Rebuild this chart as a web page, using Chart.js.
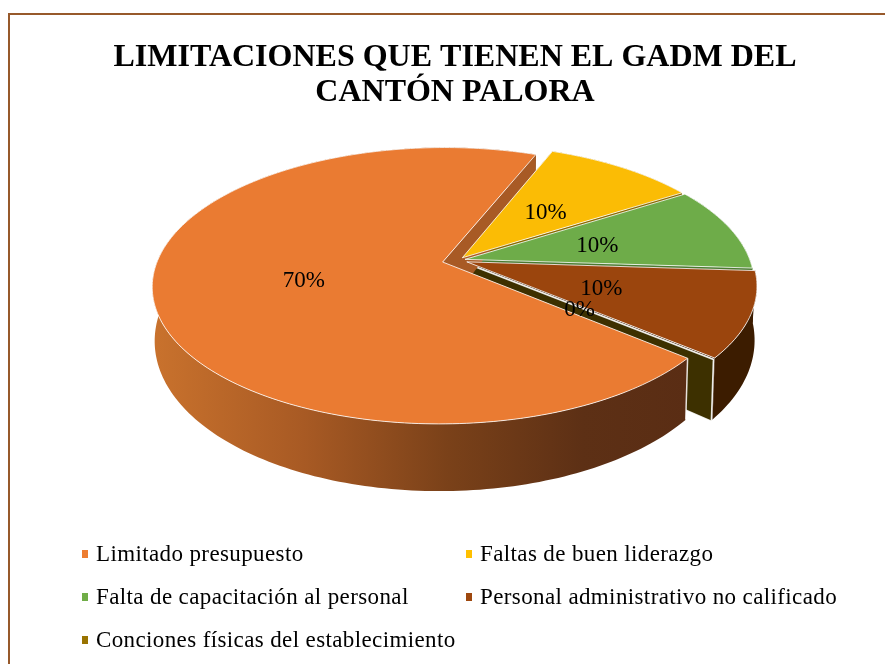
<!DOCTYPE html>
<html lang="es">
<head>
<meta charset="utf-8">
<title>Limitaciones</title>
<script src="https://cdn.jsdelivr.net/npm/chart.js@4"></script>
<style>
html,body{margin:0;padding:0;background:#fff;overflow:hidden;width:885px;height:664px}
#frame{position:absolute;left:8px;top:13px;right:0;bottom:0;border-left:2px solid #97592b;border-top:2px solid #97592b}
canvas{position:absolute;left:0;top:0}
</style>
</head>
<body>
<div id="frame"></div>
<canvas id="c" width="885" height="664"></canvas>
<script>
const titleLines = ['LIMITACIONES QUE TIENEN EL GADM DEL', 'CANTÓN PALORA'];
const categories = ['Limitado presupuesto', 'Faltas de buen liderazgo', 'Falta de capacitación al personal', 'Personal administrativo no calificado', 'Conciones físicas del establecimiento'];
const values = [70, 10, 10, 10, 0];
const sliceColors = ['#ea7b32', '#fbbc05', '#6eac49', '#9b450d', '#997300'];
const legendColors = ['#ed7d31', '#ffc000', '#70ad47', '#9e480e', '#997300'];
const wallColors = ['#5a2d14', '#7d5e00', '#3f6b2a', '#3c1c00', '#3d3000'];
const faceColors = ['#a85a25', '#8a6a00', '#4a7a30', '#3c1c00', '#3d3000'];
const explode = [7, 3, 3.2, 4.2, 4.2];

const FONT = '"Liberation Serif", "Times New Roman", serif';
const view = {dx: 3, dy: 0, A: 285, B: 133.5, k: 0.171, shrink: 0.992, d0: 51, d1: 16, labelR: 0.49, labelDy: 2.5};

function projector(el) {
  const cx = el.x + view.dx, cy = el.y + view.dy;
  const top = (u, v) => {
    const w = 1 - view.k * v;
    return [cx + view.A * u / w, cy + view.B * v / w];
  };
  const bottom = (u, v) => {
    const p = top(u, v);
    return [cx + view.shrink * (p[0] - cx), p[1] + view.d0 + view.d1 * v];
  };
  return {top, bottom};
}
function apexOf(el) {
  const mid = (el.startAngle + el.endAngle) / 2;
  const e = (el.options.offset || 0) / el.outerRadius;
  return [e * Math.cos(mid), e * Math.sin(mid)];
}
function rimPoints(el) {
  const a = apexOf(el), out = [];
  const n = Math.max(1, Math.ceil((el.endAngle - el.startAngle) / 0.02));
  for (let i = 0; i <= n; i++) {
    const t = el.startAngle + (el.endAngle - el.startAngle) * i / n;
    out.push([a[0] + Math.cos(t), a[1] + Math.sin(t)]);
  }
  return out;
}
function poly(ctx, pts) {
  ctx.beginPath();
  pts.forEach((p, i) => i ? ctx.lineTo(p[0], p[1]) : ctx.moveTo(p[0], p[1]));
  ctx.closePath();
}
const pie3d = {
  id: 'pie3d',
  beforeDatasetDraw(chart, args) {
    const ctx = chart.ctx, arcs = args.meta.data;
    const sideOrder = [1, 2, 3, 4, 0];
    ctx.save();
    ctx.lineJoin = 'round';
    sideOrder.forEach(i => {
      const el = arcs[i], pr = projector(el), a = apexOf(el), rim = rimPoints(el);
      const face = q => {
        poly(ctx, [pr.top(a[0], a[1]), pr.top(q[0], q[1]), pr.bottom(q[0], q[1]), pr.bottom(a[0], a[1])]);
        ctx.fillStyle = faceColors[i];
        ctx.fill();
        if (i === 4) { ctx.strokeStyle = 'rgba(255,255,255,.85)'; ctx.lineWidth = 1.5; ctx.stroke(); }
      };
      face(rim[0]);
      if (rim.length > 2) {
        poly(ctx, rim.map(q => pr.top(q[0], q[1])).concat(rim.slice().reverse().map(q => pr.bottom(q[0], q[1]))));
        if (i === 0) {
          const g = ctx.createLinearGradient(153, 0, 690, 0);
          g.addColorStop(0, '#c9722d');
          g.addColorStop(0.28, '#a85a24');
          g.addColorStop(0.55, '#7a4119');
          g.addColorStop(0.8, '#5d3015');
          g.addColorStop(1, wallColors[0]);
          ctx.fillStyle = g;
        } else {
          ctx.fillStyle = wallColors[i];
        }
        ctx.fill();
        if (i === 0) {
          const t = pr.top(rim[0][0], rim[0][1]), b = pr.bottom(rim[0][0], rim[0][1]);
          ctx.beginPath();
          ctx.moveTo(t[0], t[1]);
          ctx.lineTo(b[0], b[1]);
          ctx.strokeStyle = 'rgba(255,255,255,.85)';
          ctx.lineWidth = 1.5;
          ctx.stroke();
        }
      }
      face(rim[rim.length - 1]);
    });
    [1, 2, 3, 0].forEach(i => {
      const el = arcs[i], pr = projector(el), a = apexOf(el), rim = rimPoints(el);
      poly(ctx, [pr.top(a[0], a[1])].concat(rim.map(q => pr.top(q[0], q[1]))));
      ctx.fillStyle = el.options.backgroundColor;
      ctx.fill();
      ctx.strokeStyle = 'rgba(255,255,255,.8)';
      ctx.lineWidth = 1;
      ctx.stroke();
    });
    ctx.restore();
    return false;
  },
  afterDatasetsDraw(chart) {
    const ctx = chart.ctx, arcs = chart.getDatasetMeta(0).data;
    const total = values.reduce((s, x) => s + x, 0);
    ctx.save();
    ctx.fillStyle = '#000';
    ctx.font = '23px ' + FONT;
    ctx.textAlign = 'center';
    ctx.textBaseline = 'middle';
    arcs.forEach((el, i) => {
      const pr = projector(el), a = apexOf(el), mid = (el.startAngle + el.endAngle) / 2;
      const p = pr.top(a[0] + view.labelR * Math.cos(mid), a[1] + view.labelR * Math.sin(mid));
      ctx.fillText(Math.round(values[i] / total * 100) + '%', p[0], p[1] + view.labelDy);
    });
    // legend
    const cols = [82, 466], rows = [554, 597, 640];
    ctx.textAlign = 'left';
    ctx.font = '23px ' + FONT;
    ctx.letterSpacing = '0.38px';
    categories.forEach((name, i) => {
      const x = cols[i % 2], y = rows[Math.floor(i / 2)];
      ctx.fillStyle = legendColors[i];
      ctx.fillRect(x, y - 4, 6, 8);
      ctx.fillStyle = '#000';
      ctx.fillText(name, x + 14, y + 1);
    });
    ctx.restore();
  }
};

new Chart(document.getElementById('c'), {
  type: 'pie',
  plugins: [pie3d],
  data: {
    labels: categories,
    datasets: [{data: values, backgroundColor: sliceColors, borderWidth: 0, offset: explode}]
  },
  options: {
    responsive: false,
    animation: false,
    rotation: 129.7,
    layout: {padding: {left: 25, right: 0, top: 0, bottom: 274}},
    plugins: {
      legend: {display: false},
      tooltip: {enabled: false},
      title: {
        display: true,
        text: titleLines,
        color: '#000',
        font: {family: FONT, size: 32, weight: 'bold', lineHeight: 1.1},
        padding: {top: 40, bottom: 20}
      }
    }
  }
});
</script>
</body>
</html>
